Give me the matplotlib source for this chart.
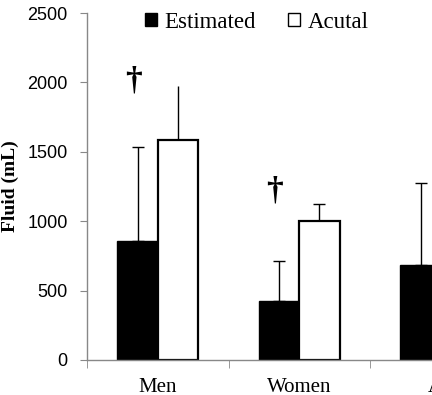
import matplotlib
matplotlib.use("Agg")
import matplotlib.pyplot as plt
import numpy as np
from matplotlib.patches import Patch

# Values (mL)
groups = ["Men", "Women", "All"]
estimated = [855, 425, 682]
estimated_sd = [680, 286, 593]
actual = [1585, 1002, 1300]
actual_sd = [392, 124, 300]
actual_caps = [False, True, True]
dagger_groups = [0, 1]
dagger_heights = [2010, 1220]

SERIF = "Liberation Serif"
SANS = "Liberation Sans"

fig = plt.figure(figsize=(4.32, 3.95), dpi=100)
# the original chart is cropped on the right, so the axes run past the figure
ax = fig.add_axes([87 / 432, 35 / 395, 3 * 141.5 / 432, 347 / 395])

x = np.arange(len(groups))
w = 0.285
ax.bar(x - w / 2, estimated, width=w, color="black", edgecolor="black",
       linewidth=1.0, zorder=2)
ax.bar(x + w / 2, actual, width=w, color="white", edgecolor="black",
       linewidth=1.6, zorder=2)

ax.errorbar(x - w / 2, estimated, yerr=[np.zeros(len(x)), estimated_sd],
            fmt="none", ecolor="black", elinewidth=1.0, capsize=4,
            capthick=1.0, zorder=1)
for i in x:
    ax.errorbar(i + w / 2, actual[i], yerr=[[0], [actual_sd[i]]],
                fmt="none", ecolor="black", elinewidth=1.0,
                capsize=4 if actual_caps[i] else 0, capthick=1.0, zorder=1)

for g, h in zip(dagger_groups, dagger_heights):
    ax.text(g - w / 2 - 0.03, h, "\u2020", ha="center", va="center",
            fontsize=24, fontweight="bold", family=SERIF)

ax.set_yticks(np.arange(0, 2501, 500))
ax.set_xticks(x)
ax.set_xticklabels(groups, fontsize=15, family=SERIF)
ax.set_xticks(np.arange(len(groups) + 1) - 0.5, minor=True)
ax.set_ylim(0, 2500)
ax.set_xlim(-0.5, len(groups) - 0.5)
ax.tick_params(axis="x", which="major", length=0, pad=13)
ax.tick_params(axis="x", which="minor", length=6, direction="out",
               color="#888888")
ax.tick_params(axis="y", length=5, direction="out", color="#888888",
               labelsize=13, pad=9)
for lab in ax.get_yticklabels():
    lab.set_family(SANS)

for s in ["top", "right"]:
    ax.spines[s].set_visible(False)
for s in ["left", "bottom"]:
    ax.spines[s].set_color("#888888")
    ax.spines[s].set_linewidth(1.0)

ax.set_ylabel("Fluid (mL)", fontsize=14, fontweight="bold", family=SERIF,
              labelpad=6)

handles = [Patch(facecolor="black", edgecolor="black", label="Estimated"),
           Patch(facecolor="white", edgecolor="black", label="Acutal")]
fig.legend(handles=handles, loc="upper center", bbox_to_anchor=(0.595, 1.022),
           ncol=2, frameon=False, prop={"family": SERIF, "size": 16.5},
           handlelength=0.5, handleheight=0.5, handletextpad=0.35,
           columnspacing=1.4)

fig.savefig("out.png", dpi=100)
